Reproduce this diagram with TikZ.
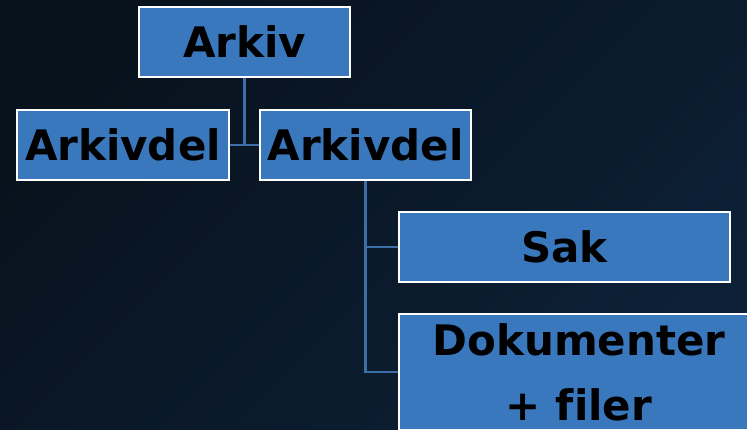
\documentclass[tikz,border=0pt]{standalone}
\usepackage{fontspec}
\setmainfont[Ligatures=NoCommon]{DejaVu Sans}
\definecolor{boxblue}{HTML}{3A78BD}
\definecolor{linkblue}{HTML}{3D6FA7}
\definecolor{bgdark}{HTML}{08121D}
\definecolor{bglight}{HTML}{0D2036}
\begin{document}
\begin{tikzpicture}[x=1pt, y=-1pt,
    level/.style={draw=white, line width=2.5pt, fill=boxblue, inner sep=0pt,
        minimum height=70pt, font=\bfseries\fontsize{42}{65}\selectfont,
        text=black, align=center},
    link/.style={draw=linkblue, line width=2.5pt}]
        % Draw the dark background
        \useasboundingbox (0, 0) rectangle (747, 429);
        \clip (0, 0) rectangle (747, 429);
        \shade[left color=bgdark, right color=bglight, shading angle=45]
            (0, 0) rectangle (747, 429);

        % Draw the boxes of the archive structure
        \node[level, minimum width=211pt] (arkiv) at (244.5, 42) {Arkiv};
        \node[level, minimum width=212pt] (delA) at (123, 145) {Arkivdel};
        \node[level, minimum width=211pt] (delB) at (365.5, 145) {Arkivdel};
        \node[level, minimum width=331pt] (sak) at (564.5, 247) {Sak};
        \node[level, minimum width=360pt, minimum height=116pt] (dok) at (579, 372)
            {Dokumenter\\+ filer};

        % Draw the links between the boxes
        \draw[link] (arkiv.south) |- (delA.east);
        \draw[link] (arkiv.south) |- (delB.west);
        \draw[link] (delB.south) |- (sak.west);
        \draw[link] (delB.south) |- (dok.west);
    \end{tikzpicture}
\end{document}
